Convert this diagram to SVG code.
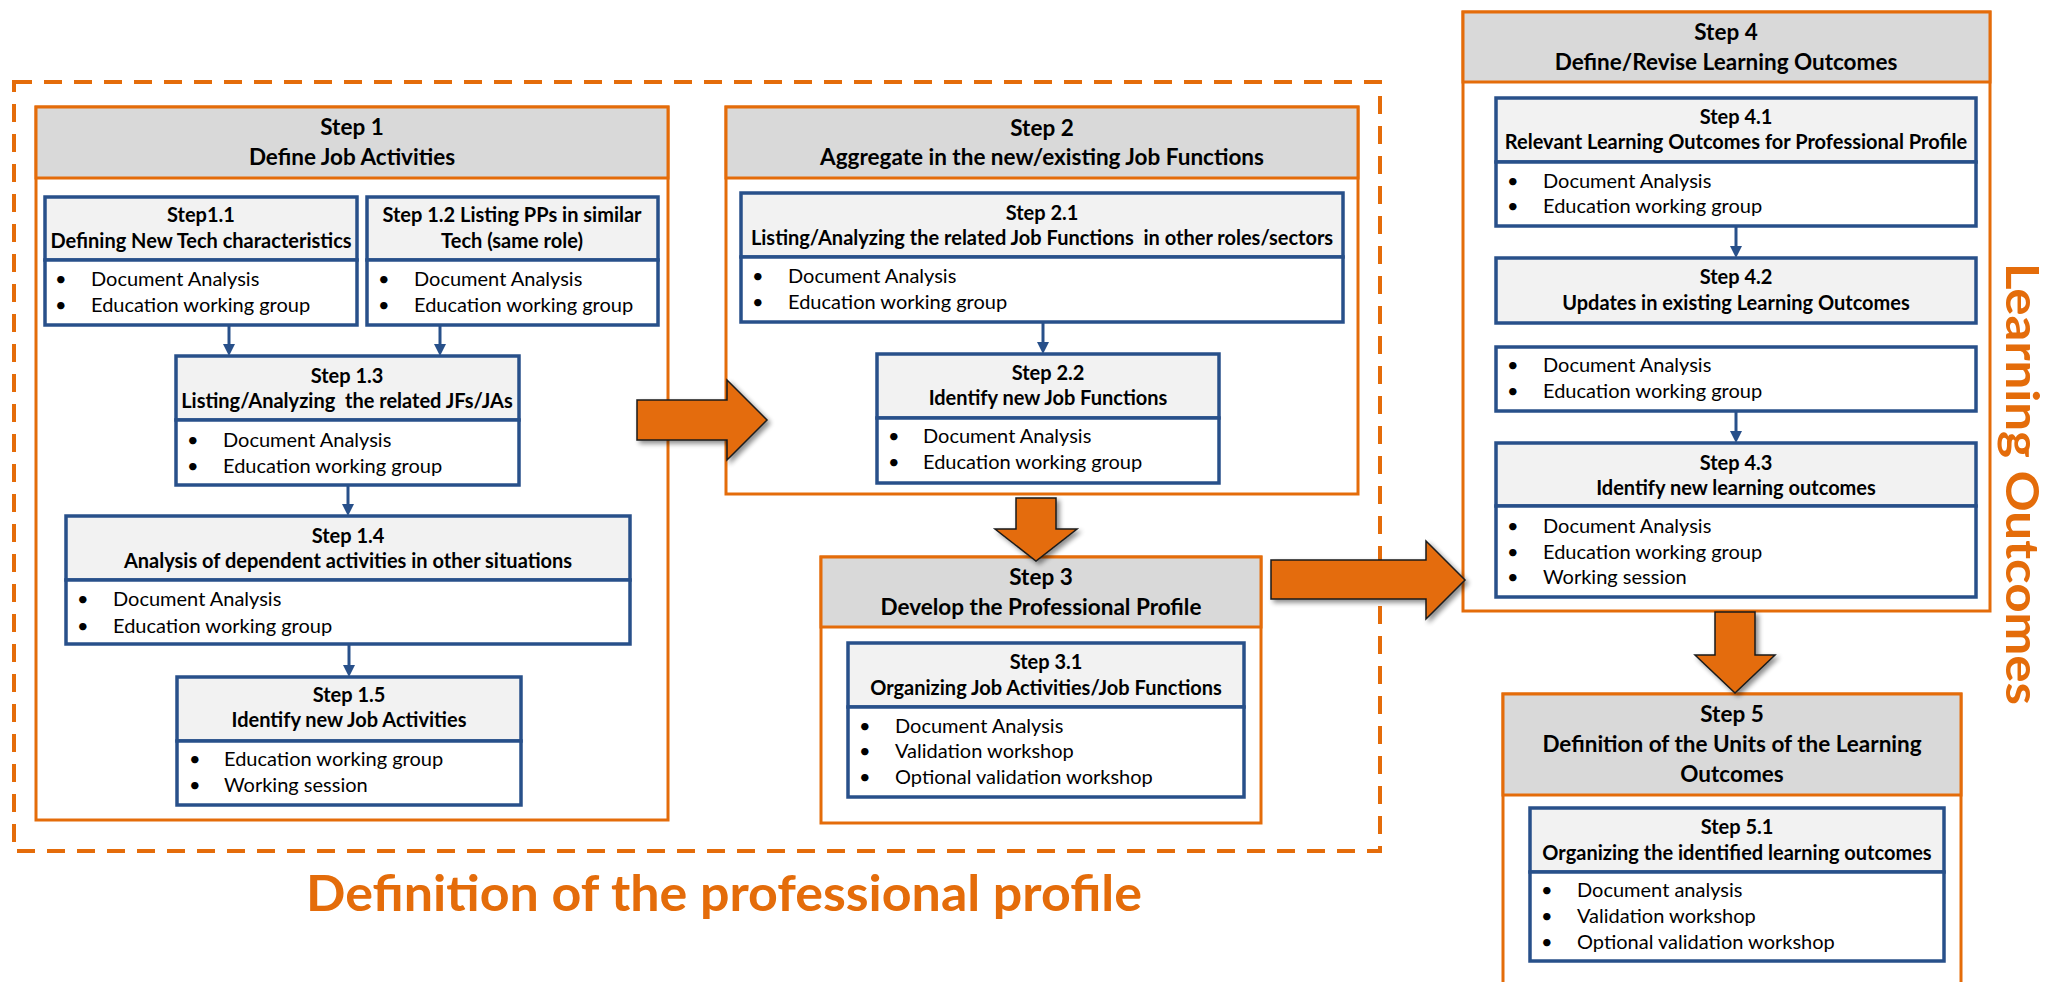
<svg xmlns="http://www.w3.org/2000/svg" width="2054" height="982" viewBox="0 0 2054 982">
<defs>
<style>
.bg{fill:#ffffff}
.dash{fill:none;stroke:#E46C0A;stroke-width:4;stroke-dasharray:18 12}
.out{fill:#ffffff;stroke:#E46C0A;stroke-width:3}
.hd{fill:#D9D9D9;stroke:#E46C0A;stroke-width:3}
.sh{fill:#F2F2F2;stroke:#28508A;stroke-width:3.5}
.sb{fill:#ffffff;stroke:#28508A;stroke-width:3.5}
.con{fill:none;stroke:#28508A;stroke-width:3;marker-end:url(#ah)}
.big{fill:#E46C0A;stroke:#1a1a1a;stroke-width:1.5;stroke-linejoin:miter;filter:url(#shadow)}
text{font-family:Lato,"Liberation Sans",sans-serif;fill:#000000}
.t1{font-size:22.5px;font-weight:bold;text-anchor:middle}
.t2{font-size:20px;font-weight:bold;text-anchor:middle}
.tb{font-size:20px}
.big-label{font-size:50px;font-weight:bold;fill:#E46C0A}
.side-label{font-size:46px;font-weight:bold;fill:#E46C0A}
</style>
<marker id="ah" viewBox="0 0 12 12" refX="3" refY="6" markerWidth="12" markerHeight="12" markerUnits="userSpaceOnUse" orient="auto">
<path d="M0,0 L12,6 L0,12 z" fill="#28508A"/>
</marker>
<filter id="shadow" x="-20%" y="-20%" width="150%" height="150%">
<feGaussianBlur in="SourceAlpha" stdDeviation="2.5"/>
<feOffset dx="3" dy="3" result="b"/>
<feComponentTransfer><feFuncA type="linear" slope="0.45"/></feComponentTransfer>
<feMerge><feMergeNode/><feMergeNode in="SourceGraphic"/></feMerge>
</filter>
</defs>
<rect class="bg" x="0" y="0" width="2054" height="982"/>

<g id="profile-region">
<rect class="dash" x="14" y="82" width="1366" height="769"/>
<text class="big-label" x="724" y="911" text-anchor="middle" textLength="836" lengthAdjust="spacingAndGlyphs">Definition of the professional profile</text>
</g>

<g id="learning-region">
<text class="side-label" transform="translate(2006,484) rotate(90)" x="0" y="0" text-anchor="middle" textLength="442" lengthAdjust="spacingAndGlyphs">Learning Outcomes</text>
</g>

<!-- Step 1 -->
<g id="step1">
<rect class="out" x="36" y="107" width="632" height="713"/>
<rect class="hd" x="36" y="107" width="632" height="71"/>
<text class="t1" x="352" y="135">Step 1</text>
<text class="t1" x="352" y="165">Define Job Activities</text>
</g>
<g id="step1-1">
<rect class="sh" x="45" y="197" width="312" height="63"/>
<rect class="sb" x="45" y="260" width="312" height="65"/>
<text class="t2" x="201" y="222">Step1.1</text>
<text class="t2" x="201" y="248">Defining New Tech characteristics</text>
<text class="tb" x="55" y="286">•</text><text class="tb" x="91" y="286">Document Analysis</text>
<text class="tb" x="55" y="312">•</text><text class="tb" x="91" y="312">Education working group</text>
</g>
<g id="step1-2">
<rect class="sh" x="367" y="197" width="291" height="63"/>
<rect class="sb" x="367" y="260" width="291" height="65"/>
<text class="t2" x="512" y="222">Step 1.2 Listing PPs in similar</text>
<text class="t2" x="512" y="248">Tech (same role)</text>
<text class="tb" x="378" y="286">•</text><text class="tb" x="414" y="286">Document Analysis</text>
<text class="tb" x="378" y="312">•</text><text class="tb" x="414" y="312">Education working group</text>
</g>
<g id="step1-3">
<rect class="sh" x="176" y="356" width="343" height="64"/>
<rect class="sb" x="176" y="420" width="343" height="65"/>
<text class="t2" x="347" y="383">Step 1.3</text>
<text class="t2" x="347" y="408" xml:space="preserve">Listing/Analyzing  the related JFs/JAs</text>
<text class="tb" x="187" y="447">•</text><text class="tb" x="223" y="447">Document Analysis</text>
<text class="tb" x="187" y="473">•</text><text class="tb" x="223" y="473">Education working group</text>
</g>
<g id="step1-4">
<rect class="sh" x="66" y="516" width="564" height="64"/>
<rect class="sb" x="66" y="580" width="564" height="64"/>
<text class="t2" x="348" y="543">Step 1.4</text>
<text class="t2" x="348" y="568">Analysis of dependent activities in other situations</text>
<text class="tb" x="77" y="606">•</text><text class="tb" x="113" y="606">Document Analysis</text>
<text class="tb" x="77" y="633">•</text><text class="tb" x="113" y="633">Education working group</text>
</g>
<g id="step1-5">
<rect class="sh" x="177" y="677" width="344" height="64"/>
<rect class="sb" x="177" y="741" width="344" height="64"/>
<text class="t2" x="349" y="702">Step 1.5</text>
<text class="t2" x="349" y="727">Identify new Job Activities</text>
<text class="tb" x="189" y="766">•</text><text class="tb" x="224" y="766">Education working group</text>
<text class="tb" x="189" y="792">•</text><text class="tb" x="224" y="792">Working session</text>
</g>

<!-- Step 2 -->
<g id="step2">
<rect class="out" x="726" y="107" width="632" height="387"/>
<rect class="hd" x="726" y="107" width="632" height="71"/>
<text class="t1" x="1042" y="136">Step 2</text>
<text class="t1" x="1042" y="165">Aggregate in the new/existing Job Functions</text>
</g>
<g id="step2-1">
<rect class="sh" x="741" y="193" width="602" height="64"/>
<rect class="sb" x="741" y="257" width="602" height="65"/>
<text class="t2" x="1042" y="220">Step 2.1</text>
<text class="t2" x="1042" y="245" xml:space="preserve">Listing/Analyzing the related Job Functions  in other roles/sectors</text>
<text class="tb" x="752" y="283">•</text><text class="tb" x="788" y="283">Document Analysis</text>
<text class="tb" x="752" y="309">•</text><text class="tb" x="788" y="309">Education working group</text>
</g>
<g id="step2-2">
<rect class="sh" x="877" y="354" width="342" height="64"/>
<rect class="sb" x="877" y="418" width="342" height="65"/>
<text class="t2" x="1048" y="380">Step 2.2</text>
<text class="t2" x="1048" y="405">Identify new Job Functions</text>
<text class="tb" x="888" y="443">•</text><text class="tb" x="923" y="443">Document Analysis</text>
<text class="tb" x="888" y="469">•</text><text class="tb" x="923" y="469">Education working group</text>
</g>

<!-- Step 3 -->
<g id="step3">
<rect class="out" x="821" y="557" width="440" height="266"/>
<rect class="hd" x="821" y="557" width="440" height="70"/>
<text class="t1" x="1041" y="585">Step 3</text>
<text class="t1" x="1041" y="615">Develop the Professional Profile</text>
</g>
<g id="step3-1">
<rect class="sh" x="848" y="643" width="396" height="64"/>
<rect class="sb" x="848" y="707" width="396" height="90"/>
<text class="t2" x="1046" y="669">Step 3.1</text>
<text class="t2" x="1046" y="695">Organizing Job Activities/Job Functions</text>
<text class="tb" x="859" y="733">•</text><text class="tb" x="895" y="733">Document Analysis</text>
<text class="tb" x="859" y="758">•</text><text class="tb" x="895" y="758">Validation workshop</text>
<text class="tb" x="859" y="784">•</text><text class="tb" x="895" y="784">Optional validation workshop</text>
</g>

<!-- Step 4 -->
<g id="step4">
<rect class="out" x="1463" y="12" width="527" height="599"/>
<rect class="hd" x="1463" y="12" width="527" height="70"/>
<text class="t1" x="1726" y="40">Step 4</text>
<text class="t1" x="1726" y="70">Define/Revise Learning Outcomes</text>
</g>
<g id="step4-1">
<rect class="sh" x="1496" y="98" width="480" height="64"/>
<rect class="sb" x="1496" y="162" width="480" height="64"/>
<text class="t2" x="1736" y="124">Step 4.1</text>
<text class="t2" x="1736" y="149">Relevant Learning Outcomes for Professional Profile</text>
<text class="tb" x="1507" y="188">•</text><text class="tb" x="1543" y="188">Document Analysis</text>
<text class="tb" x="1507" y="213">•</text><text class="tb" x="1543" y="213">Education working group</text>
</g>
<g id="step4-2">
<rect class="sh" x="1496" y="258" width="480" height="65"/>
<text class="t2" x="1736" y="284">Step 4.2</text>
<text class="t2" x="1736" y="310">Updates in existing Learning Outcomes</text>
</g>
<g id="step4-2-methods">
<rect class="sb" x="1496" y="347" width="480" height="64"/>
<text class="tb" x="1507" y="372">•</text><text class="tb" x="1543" y="372">Document Analysis</text>
<text class="tb" x="1507" y="398">•</text><text class="tb" x="1543" y="398">Education working group</text>
</g>
<g id="step4-3">
<rect class="sh" x="1496" y="443" width="480" height="63"/>
<rect class="sb" x="1496" y="506" width="480" height="91"/>
<text class="t2" x="1736" y="470">Step 4.3</text>
<text class="t2" x="1736" y="495">Identify new learning outcomes</text>
<text class="tb" x="1507" y="533">•</text><text class="tb" x="1543" y="533">Document Analysis</text>
<text class="tb" x="1507" y="559">•</text><text class="tb" x="1543" y="559">Education working group</text>
<text class="tb" x="1507" y="584">•</text><text class="tb" x="1543" y="584">Working session</text>
</g>

<!-- Step 5 -->
<g id="step5">
<rect class="out" x="1503" y="694" width="458" height="310"/>
<rect class="hd" x="1503" y="694" width="458" height="101"/>
<text class="t1" x="1732" y="722">Step 5</text>
<text class="t1" x="1732" y="752">Definition of the Units of the Learning</text>
<text class="t1" x="1732" y="782">Outcomes</text>
</g>
<g id="step5-1">
<rect class="sh" x="1530" y="808" width="414" height="64"/>
<rect class="sb" x="1530" y="872" width="414" height="89"/>
<text class="t2" x="1737" y="834">Step 5.1</text>
<text class="t2" x="1737" y="860">Organizing the identified learning outcomes</text>
<text class="tb" x="1541" y="897">•</text><text class="tb" x="1577" y="897">Document analysis</text>
<text class="tb" x="1541" y="923">•</text><text class="tb" x="1577" y="923">Validation workshop</text>
<text class="tb" x="1541" y="949">•</text><text class="tb" x="1577" y="949">Optional validation workshop</text>
</g>

<!-- Connectors -->
<g id="connectors">
<line class="con" x1="229" y1="325" x2="229" y2="347"/>
<line class="con" x1="440" y1="325" x2="440" y2="347"/>
<line class="con" x1="348" y1="485" x2="348" y2="507"/>
<line class="con" x1="349" y1="644" x2="349" y2="668"/>
<line class="con" x1="1043" y1="322" x2="1043" y2="345"/>
<line class="con" x1="1736" y1="226" x2="1736" y2="249"/>
<line class="con" x1="1736" y1="411" x2="1736" y2="434"/>
<polygon class="big" points="637,400 727,400 727,380 767,420 727,460 727,440 637,440"/>
<polygon class="big" points="1016,498 1056,498 1056,529 1077,529 1036,561 995,529 1016,529"/>
<polygon class="big" points="1271,560 1426,560 1426,541 1465,580 1426,619 1426,599 1271,599"/>
<polygon class="big" points="1715,612 1755,612 1755,655 1775,655 1735,693 1695,655 1715,655"/>
</g>
</svg>
